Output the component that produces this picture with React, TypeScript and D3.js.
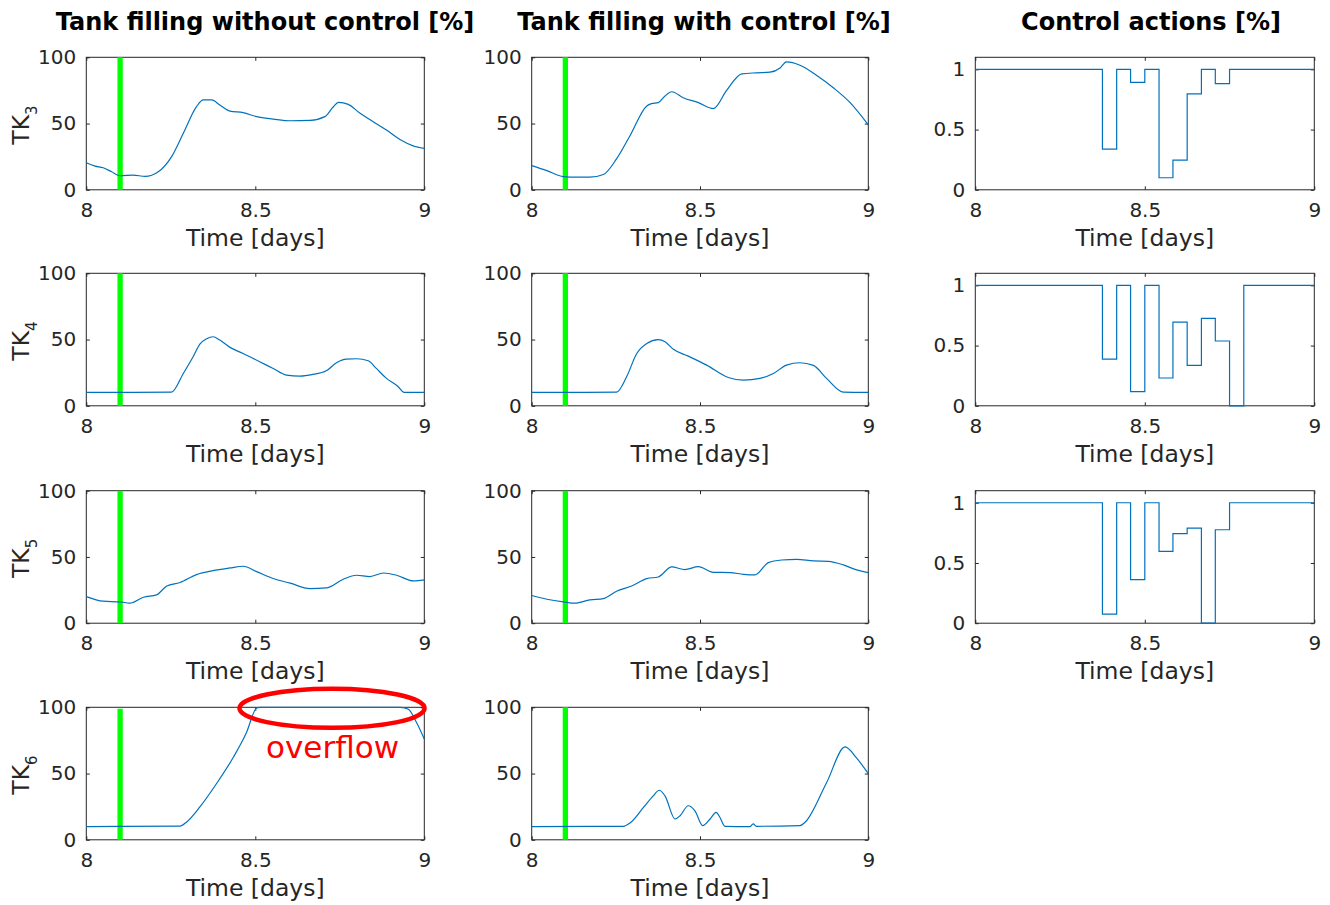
import React, { useEffect, useRef } from "react";
import * as d3 from "d3";

// time axis (days) and tick labels
const dayTicks = [8, 8.5, 9];
const tankTicks = [0, 50, 100];
const ctrlTicks = [0, 0.5, 1];
const alarmTime = 8.1;

const colTitles = [
  "Tank filling without control [%]",
  "Tank filling with control [%]",
  "Control actions [%]",
];
const tankNames = ["3", "4", "5", "6"];

// tank filling, no control  [time, %]
const tk3Without = [
  [8.0, 20.4], [8.026, 17.9], [8.05, 16.6], [8.075, 13.6], [8.1, 10.6], [8.139, 11.1],
  [8.174, 10.1], [8.213, 13.6], [8.252, 24.9], [8.287, 42.6], [8.326, 62.7], [8.346, 67.8],
  [8.371, 67.8], [8.395, 64.0], [8.425, 59.4], [8.464, 58.2], [8.504, 55.2], [8.553, 53.4],
  [8.603, 52.1], [8.662, 52.4], [8.706, 55.2], [8.731, 62.7], [8.746, 66.0], [8.775, 64.5],
  [8.81, 57.7], [8.849, 51.4], [8.888, 45.1], [8.928, 38.0], [8.967, 33.2], [9.0, 31.2],
];
const tk4Without = [
  [8.0, 10.1], [8.139, 10.1], [8.252, 10.3], [8.287, 24.4], [8.316, 37.0], [8.336, 46.6],
  [8.356, 50.6], [8.375, 52.1], [8.395, 49.6], [8.425, 44.1], [8.464, 39.5], [8.513, 33.2],
  [8.553, 28.2], [8.592, 23.2], [8.632, 22.4], [8.671, 23.7], [8.71, 26.4], [8.74, 32.5],
  [8.769, 35.3], [8.8, 35.5], [8.834, 34.0], [8.858, 28.2], [8.888, 20.7], [8.923, 14.4],
  [8.94, 10.1], [9.0, 10.1],
];
const tk5Without = [
  [8.0, 20.1], [8.05, 16.6], [8.1, 16.1], [8.129, 15.1], [8.169, 19.6], [8.208, 21.4],
  [8.238, 28.1], [8.277, 30.7], [8.326, 36.7], [8.375, 39.7], [8.425, 41.7], [8.464, 43.0],
  [8.504, 38.9], [8.553, 33.7], [8.603, 30.2], [8.662, 26.1], [8.71, 26.6], [8.76, 33.2],
  [8.799, 36.2], [8.839, 35.2], [8.879, 37.9], [8.918, 36.2], [8.967, 31.9], [9.0, 32.7],
];
const tk6Without = [
  [8.0, 10.0], [8.277, 10.3], [8.297, 13.5], [8.336, 24.8], [8.385, 42.3], [8.435, 62.3],
  [8.474, 81.0], [8.504, 99.5], [8.514, 100], [8.93, 100], [8.953, 98.5], [8.977, 88.5],
  [9.0, 76.0],
];

// tank filling, with control  [time, %]
const tk3With = [
  [8.0, 18.3], [8.045, 14.5], [8.094, 10.0], [8.134, 9.5], [8.173, 9.5], [8.213, 11.5],
  [8.252, 23.3], [8.292, 40.8], [8.342, 63.3], [8.356, 65.0], [8.376, 65.8], [8.396, 70.8],
  [8.416, 74.0], [8.45, 69.5], [8.495, 65.8], [8.54, 61.3], [8.579, 75.0], [8.624, 87.5],
  [8.668, 88.3], [8.708, 88.8], [8.738, 92.0], [8.757, 96.5], [8.797, 94.0], [8.847, 86.3],
  [8.896, 77.0], [8.946, 65.8], [9.0, 49.0],
];
const tk4With = [
  [8.0, 10.1], [8.252, 10.3], [8.282, 21.9], [8.312, 39.5], [8.342, 47.1], [8.376, 49.9],
  [8.396, 48.4], [8.421, 42.6], [8.465, 37.5], [8.52, 30.7], [8.584, 21.4], [8.629, 19.4],
  [8.678, 20.7], [8.718, 24.4], [8.757, 30.7], [8.797, 32.5], [8.837, 30.5], [8.876, 20.7],
  [8.926, 10.3], [9.0, 10.1],
];
const tk5With = [
  [8.0, 20.9], [8.045, 18.1], [8.094, 16.1], [8.129, 15.1], [8.173, 17.6], [8.213, 18.6],
  [8.252, 24.1], [8.297, 28.1], [8.342, 33.7], [8.376, 34.9], [8.416, 42.5], [8.455, 40.5],
  [8.495, 42.7], [8.54, 38.4], [8.589, 38.2], [8.629, 36.9], [8.663, 36.4], [8.703, 45.7],
  [8.743, 47.7], [8.787, 48.2], [8.837, 47.0], [8.881, 46.7], [8.926, 44.0], [8.965, 40.2],
  [9.0, 38.2],
];
const tk6With = [
  [8.0, 10.0], [8.272, 10.2], [8.292, 12.7], [8.332, 24.4], [8.361, 33.2], [8.379, 37.4],
  [8.396, 33.2], [8.426, 15.7], [8.441, 18.2], [8.465, 25.7], [8.485, 21.9], [8.508, 10.7],
  [8.53, 15.7], [8.548, 20.7], [8.559, 17.0], [8.574, 10.2], [8.649, 10.0], [8.658, 12.0],
  [8.668, 10.2], [8.797, 10.7], [8.812, 13.2], [8.876, 43.1], [8.931, 70.1], [8.965, 61.8],
  [9.0, 49.9],
];

// control actions, hourly steps
const ctrlTimes = [8, 8.375, 8.417, 8.458, 8.5, 8.542, 8.583, 8.625, 8.667, 8.708, 8.75, 8.792, 9];
const u3 = [1, 0.337, 1, 0.892, 1, 0.1, 0.246, 0.796, 1, 0.881, 1, 1, 1];
const u4 = [1, 0.387, 1, 0.118, 1, 0.231, 0.695, 0.335, 0.725, 0.538, 0, 1, 1];
const u5 = [1, 0.075, 1, 0.362, 1, 0.597, 0.743, 0.79, 0, 0.776, 1, 1, 1];

const alarmTop = [100, 100, 100, 99];
const overflowAt = [8.727, 100];

const withoutSeries = [tk3Without, tk4Without, tk5Without, tk6Without];
const withSeries = [tk3With, tk4With, tk5With, tk6With];
const ctrlSeries = [u3, u4, u5];

const App = () => {
  const svgRef = useRef(null);

  useEffect(() => {
    const svg = d3.select(svgRef.current);
    svg.selectAll("*").remove();

    const colX = [86.3, 531.7, 975.3];
    const colW = [338, 336.6, 339];
    const rowY = [57.3, 273.3, 490.7, 707.3];
    const ph = 132.5;
    const ink = "#262626";
    const blue = "#0072BD";

    const panel = (col, row, yMax, yTicks) => {
      const x = d3.scaleLinear().domain([8, 9]).range([colX[col], colX[col] + colW[col]]);
      const y = d3.scaleLinear().domain([0, yMax]).range([rowY[row] + ph, rowY[row]]);
      const g = svg.append("g");
      const styleAxis = (a) => {
        a.select(".domain").remove();
        a.selectAll("line").attr("stroke", ink);
        a.selectAll("text").attr("fill", ink).attr("font-size", 20).attr("font-family", "DejaVu Sans");
      };
      g.append("g")
        .attr("transform", `translate(0,${y(0)})`)
        .call(d3.axisBottom(x).tickValues(dayTicks).tickSize(-3.5).tickSizeOuter(0).tickPadding(13).tickFormat((d) => String(d)))
        .call(styleAxis);
      g.append("g")
        .attr("transform", `translate(0,${y(yMax)})`)
        .call(d3.axisTop(x).tickValues(dayTicks).tickSize(-3.5).tickSizeOuter(0).tickFormat(() => ""))
        .call(styleAxis);
      g.append("g")
        .attr("transform", `translate(${x(8)},0)`)
        .call(d3.axisLeft(y).tickValues(yTicks).tickSize(-3.5).tickSizeOuter(0).tickPadding(10).tickFormat((d) => String(d)))
        .call(styleAxis);
      g.append("g")
        .attr("transform", `translate(${x(9)},0)`)
        .call(d3.axisRight(y).tickValues(yTicks).tickSize(-3.5).tickSizeOuter(0).tickFormat(() => ""))
        .call(styleAxis);
      g.append("rect")
        .attr("x", x(8)).attr("y", y(yMax))
        .attr("width", x(9) - x(8)).attr("height", y(0) - y(yMax))
        .attr("fill", "none").attr("stroke", ink).attr("stroke-width", 1);
      g.append("text")
        .attr("x", (x(8) + x(9)) / 2).attr("y", y(0) + 56)
        .attr("text-anchor", "middle").attr("fill", ink)
        .attr("font-size", 23.5).attr("font-family", "DejaVu Sans")
        .text("Time [days]");
      return { g, x, y };
    };

    // tank panels
    [withoutSeries, withSeries].forEach((group, col) => {
      group.forEach((data, row) => {
        const { g, x, y } = panel(col, row, 100, tankTicks);
        g.append("line")
          .attr("x1", x(alarmTime)).attr("x2", x(alarmTime))
          .attr("y1", y(0)).attr("y2", y(col === 0 ? alarmTop[row] : 100))
          .attr("stroke", "#00FF00").attr("stroke-width", 5.3);
        const line = d3.line().x((d) => x(d[0])).y((d) => y(d[1])).curve(d3.curveMonotoneX);
        g.append("path").datum(data).attr("d", line)
          .attr("fill", "none").attr("stroke", blue).attr("stroke-width", 1.2);
        if (col === 0) {
          const yc = (y(0) + y(100)) / 2 + 1.5;
          const t = g.append("text")
            .attr("transform", `translate(29,${yc}) rotate(-90)`)
            .attr("text-anchor", "middle").attr("fill", ink)
            .attr("font-size", 23.5).attr("font-family", "DejaVu Sans");
          t.append("tspan").text("TK");
          t.append("tspan").attr("font-size", 15).attr("dy", 8).text(tankNames[row]);
        }
        if (col === 0 && row === 3) {
          g.append("ellipse")
            .attr("cx", x(overflowAt[0])).attr("cy", y(overflowAt[1]) + 1)
            .attr("rx", 92.5).attr("ry", 19.5)
            .attr("fill", "none").attr("stroke", "#FF0000").attr("stroke-width", 4.5);
          g.append("text")
            .attr("x", x(overflowAt[0]) + 0.5).attr("y", y(0) - 81.5)
            .attr("text-anchor", "middle").attr("fill", "#FF0000")
            .attr("font-size", 31).attr("font-family", "DejaVu Sans")
            .text("overflow");
        }
      });
    });

    // control panels
    ctrlSeries.forEach((vals, row) => {
      const { g, x, y } = panel(2, row, 1.1, ctrlTicks);
      const pts = ctrlTimes.map((t, i) => [t, vals[i]]);
      const line = d3.line().x((d) => x(d[0])).y((d) => y(d[1])).curve(d3.curveStepAfter);
      g.append("path").datum(pts).attr("d", line)
        .attr("fill", "none").attr("stroke", blue).attr("stroke-width", 1.2);
    });

    // column titles
    const titleX = [265, 704, 1151];
    colTitles.forEach((s, i) => {
      svg.append("text")
        .attr("x", titleX[i]).attr("y", 29.5)
        .attr("text-anchor", "middle").attr("fill", "#000")
        .attr("font-size", 24).attr("font-weight", "bold").attr("font-family", "DejaVu Sans")
        .text(s);
    });
  }, []);

  return (
    <div>
      <svg
        ref={svgRef}
        width={1330}
        height={905}
        style={{ position: "absolute", left: 0, top: 0, background: "#fff" }}
      ></svg>
    </div>
  );
};

export default App;
